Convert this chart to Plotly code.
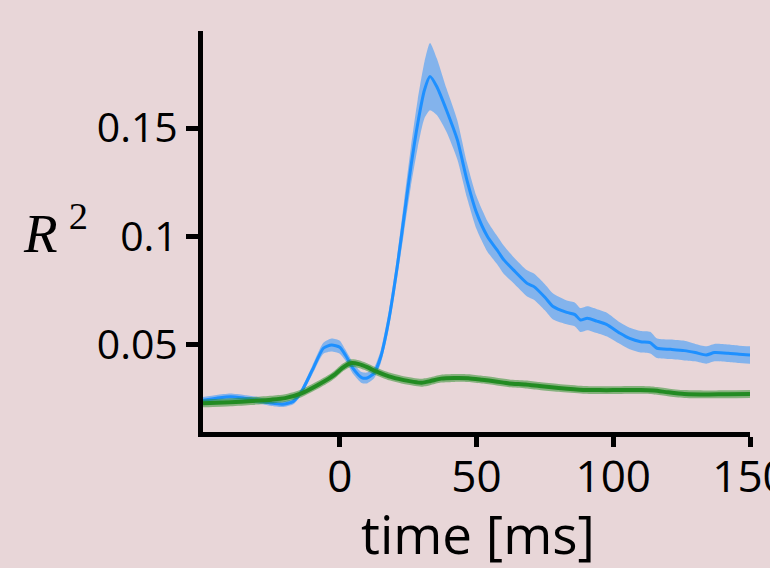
import plotly.graph_objects as go

# ---- data ----
blue_t = [-50, -45, -40, -35, -30, -25, -21, -17, -14, -10, -6, -3, 0, 2, 5, 8, 10, 12.5, 15, 18,
          21, 23.5, 26, 28.5, 31, 33, 35.5, 39, 43, 46.5, 50, 54, 57.5, 60, 63.5, 68.5, 71, 75, 78,
          83, 86, 88, 90.5, 94, 97.5, 102.5, 106, 110, 113.5, 116, 121, 126, 130, 134, 137, 142, 146, 150]
blue_mean = [0.0245, 0.0255, 0.0262, 0.0255, 0.0245, 0.0232, 0.0227, 0.0240, 0.0285, 0.0385, 0.0485,
             0.0500, 0.0490, 0.0455, 0.0390, 0.0350, 0.0348, 0.0370, 0.0446, 0.0620, 0.0860, 0.1090,
             0.1320, 0.1520, 0.1676, 0.1737, 0.1690, 0.1583, 0.1445, 0.1260, 0.1110, 0.1000, 0.0938,
             0.0892, 0.0846, 0.0784, 0.0769, 0.0720, 0.0677, 0.0650, 0.0640, 0.0615, 0.0623, 0.0610,
             0.0595, 0.0554, 0.0530, 0.0515, 0.0511, 0.0485, 0.0480, 0.0474, 0.0465, 0.0454, 0.0465,
             0.0462, 0.0457, 0.0454]
blue_err = [0.0015, 0.0015, 0.0015, 0.0015, 0.0015, 0.0013, 0.0013, 0.0013, 0.0015, 0.0020, 0.0025,
            0.0030, 0.0030, 0.0025, 0.0025, 0.0025, 0.0025, 0.0025, 0.0030, 0.0040, 0.0050, 0.0070,
            0.0090, 0.0110, 0.0130, 0.0155, 0.0130, 0.0100, 0.0090, 0.0080, 0.0075, 0.0070, 0.0065,
            0.0065, 0.0060, 0.0060, 0.0060, 0.0060, 0.0060, 0.0055, 0.0055, 0.0055, 0.0055, 0.0055,
            0.0055, 0.0050, 0.0050, 0.0050, 0.0050, 0.0045, 0.0045, 0.0045, 0.0040, 0.0040, 0.0040,
            0.0040, 0.0040, 0.0040]

green_t = [-50, -40, -32, -25, -20, -14, -8, -4, -2, 1, 4, 7, 10, 13.5, 18, 23, 27, 30, 33, 37, 42,
           47, 52, 57, 62, 68, 73, 80, 89, 95, 100, 110, 115, 120, 126, 135, 142, 150]
green_mean = [0.0231, 0.0236, 0.0242, 0.0248, 0.0255, 0.0277, 0.0316, 0.0345, 0.0362, 0.0395, 0.0416,
              0.0412, 0.0398, 0.0377, 0.0355, 0.0339, 0.0330, 0.0326, 0.0333, 0.0345, 0.0348, 0.0347,
              0.0340, 0.0332, 0.0323, 0.0318, 0.0311, 0.0302, 0.0293, 0.0292, 0.0292, 0.0293, 0.0290,
              0.0282, 0.0274, 0.0272, 0.0273, 0.0274]
green_err = [0.0018] * len(green_t)

y_ticks = [0.05, 0.1, 0.15]
y_tick_text = ["0.05", "0.1", "0.15"]
x_ticks = [0, 50, 100, 150]
x_tick_text = ["0", "50", "100", "150"]
x_title = "time [ms]"
y_title = "<i>R</i>\u2009<sup>2</sup>"

BG = "rgb(232,214,216)"
W, H = 770, 568
ML, MR, MT, MB = 203, 20, 31, 136
PW, PH = W - ML - MR, H - MT - MB


def band(fig, t, m, e, fill, line_color, lw):
    up = [a + b for a, b in zip(m, e)]
    lo = [a - b for a, b in zip(m, e)]
    fig.add_trace(go.Scatter(x=t, y=up, mode="lines", line=dict(width=0, shape="spline", smoothing=0.6),
                             hoverinfo="skip", showlegend=False))
    fig.add_trace(go.Scatter(x=t, y=lo, mode="lines", line=dict(width=0, shape="spline", smoothing=0.6),
                             fill="tonexty", fillcolor=fill, hoverinfo="skip", showlegend=False))
    fig.add_trace(go.Scatter(x=t, y=m, mode="lines",
                             line=dict(color=line_color, width=lw, shape="spline", smoothing=0.6),
                             showlegend=False))


fig = go.Figure()
band(fig, blue_t, blue_mean, blue_err, "rgba(30,144,255,0.5)", "#1e90ff", 3)
band(fig, green_t, green_mean, green_err, "rgba(34,139,34,0.5)", "#228b22", 4)

font_family = "Open Sans, Noto Sans, sans-serif"

fig.update_layout(
    width=W, height=H,
    paper_bgcolor=BG, plot_bgcolor=BG,
    margin=dict(l=ML, r=MR, t=MT, b=MB),
    font=dict(family=font_family, color="black"),
    xaxis=dict(range=[-50, 150], showgrid=False, zeroline=False, showline=True, linewidth=5,
               linecolor="black", ticks="outside", ticklen=10, tickwidth=5, tickcolor="black",
               tickvals=x_ticks, ticktext=x_tick_text, tickfont=dict(size=44, family=font_family),
               ticklabeloverflow="allow", ticklabelstandoff=-8, automargin=False),
    yaxis=dict(range=[0.0099, 0.1947], showgrid=False, zeroline=False, showline=True, linewidth=5,
               linecolor="black", ticks="outside", ticklen=12, tickwidth=5, tickcolor="black",
               tickvals=y_ticks, ticktext=y_tick_text, tickfont=dict(size=41, family=font_family),
               automargin=False),
    annotations=[
        dict(text=y_title, xref="paper", yref="paper",
             x=(55 - ML) / PW, y=(H - MB - 229) / PH,
             xanchor="center", yanchor="middle", showarrow=False,
             font=dict(size=55, family="Liberation Serif", color="black")),
        dict(text=x_title, xref="paper", yref="paper",
             x=(477.5 - ML) / PW, y=-(533 - (H - MB)) / PH,
             xanchor="center", yanchor="middle", showarrow=False,
             font=dict(size=53, family=font_family, color="black")),
    ],
)

fig.write_html("out.html", config={"displayModeBar": False},
               post_script="document.body.style.margin='0';")
